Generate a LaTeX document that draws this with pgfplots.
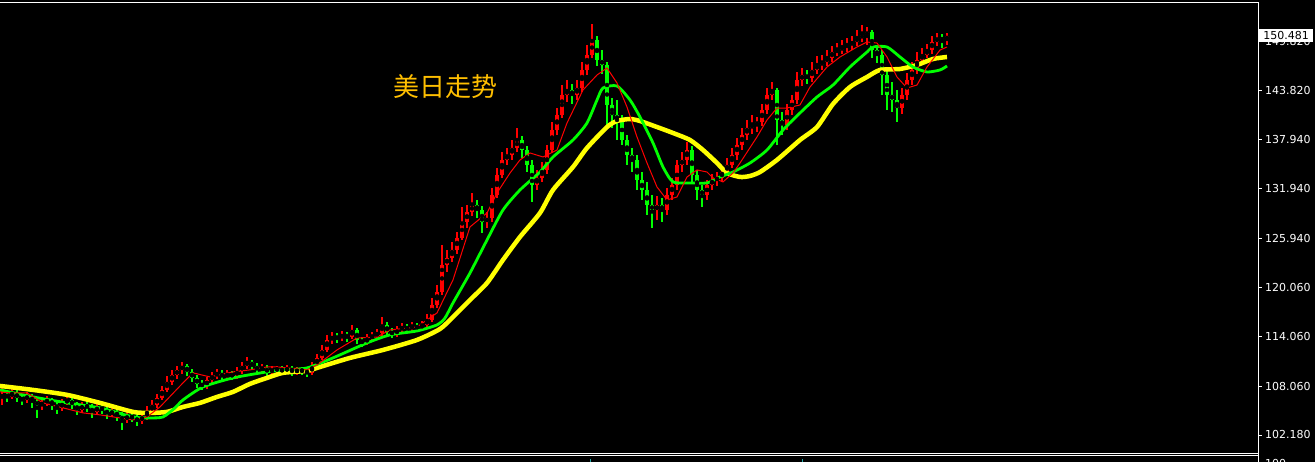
\documentclass[border=0pt]{standalone}
\usepackage{pgfplots}
\usepackage{pgfplotstable}
\pgfplotsset{compat=1.18}
\usepackage{fontspec}
\setmainfont{DejaVu Sans}
\newfontfamily\cjk{Noto Sans CJK SC}

\definecolor{upred}{HTML}{FF0000}
\definecolor{dngreen}{HTML}{00FF00}
\definecolor{maYellow}{HTML}{FFFF00}
\definecolor{titlegold}{HTML}{FFBF00}
\definecolor{teal2}{HTML}{20A8A8}

% bar position (chart pixels), open, high, low, close
\pgfplotstableread{
x o h l c
2 106.66 107.87 105.82 107.03
7 107.03 107.51 106.18 106.78
12 106.78 107.75 106.54 107.27
17 107.27 107.63 106.18 106.66
22 106.66 107.15 105.82 106.42
27 106.42 107.39 106.06 106.90
32 106.90 107.15 105.45 106.18
37 106.18 106.66 104.24 105.82
42 105.82 106.54 105.21 106.06
47 106.06 106.90 105.70 106.42
52 106.42 106.66 105.21 105.82
57 105.82 106.18 104.73 105.45
62 105.45 106.54 105.09 106.06
67 106.06 106.90 105.82 106.42
72 106.42 106.78 105.33 105.82
77 105.82 106.18 104.61 105.21
82 105.21 106.18 104.85 105.82
87 105.82 106.30 104.97 105.45
92 105.45 105.94 104.24 104.97
97 104.97 106.06 104.61 105.57
102 105.57 105.94 104.73 105.21
107 105.21 105.70 104.12 104.73
112 104.73 105.45 104.36 104.97
117 104.97 105.33 103.88 104.48
122 104.48 104.97 102.79 104.00
127 104.00 104.97 103.64 104.48
132 104.48 104.85 103.76 104.24
137 104.24 104.73 103.27 103.88
142 103.88 104.85 103.52 104.36
147 104.36 105.70 104.00 104.97
152 104.97 106.42 104.73 105.82
157 105.82 107.15 105.45 106.66
162 106.66 108.11 106.42 107.63
167 107.63 109.32 107.39 108.60
172 108.60 110.05 108.23 109.44
177 109.44 110.53 108.96 110.05
182 110.05 111.02 109.56 110.53
187 110.53 110.77 109.32 109.81
192 109.81 110.17 108.60 109.08
197 109.08 109.44 107.87 108.36
202 108.36 108.84 107.63 108.11
207 108.11 109.20 107.75 108.84
212 108.84 109.81 108.48 109.32
217 109.32 110.17 108.96 109.69
222 109.69 110.05 108.72 109.20
227 109.20 110.05 108.84 109.56
232 109.56 109.93 108.84 109.32
237 109.32 110.41 108.96 109.93
242 109.93 111.02 109.56 110.53
247 110.53 111.62 110.17 111.02
252 111.02 111.26 110.05 110.53
257 110.53 110.89 109.56 110.05
262 110.05 110.77 109.69 110.29
267 110.29 110.65 109.32 109.81
272 109.81 110.53 109.44 110.05
277 110.05 110.53 109.69 110.17
282 110.17 110.53 109.44 109.93
287 109.93 110.65 109.56 110.29
292 110.29 110.53 109.32 109.81
297 109.81 110.41 109.44 110.05
302 110.05 110.41 109.44 109.93
307 109.93 110.29 109.20 109.69
312 109.69 111.02 109.44 110.53
317 110.53 111.98 110.29 111.50
322 111.50 113.07 111.26 112.46
327 112.46 114.28 112.22 113.67
332 113.67 114.64 113.19 114.03
337 114.03 114.52 113.31 113.91
342 113.91 114.76 113.55 114.28
347 114.28 114.64 113.43 114.03
352 114.03 115.49 113.79 114.88
357 114.88 115.12 113.19 113.67
362 113.67 114.03 112.83 113.31
367 113.31 114.40 113.07 113.91
372 113.91 114.64 113.55 114.16
377 114.16 115.00 113.79 114.52
382 114.52 116.45 114.16 115.49
387 115.49 115.85 114.16 114.64
392 114.64 115.12 113.91 114.40
397 114.40 115.36 114.03 114.88
402 114.88 115.73 114.52 115.24
407 115.24 115.61 114.52 115.00
412 115.00 115.85 114.76 115.36
417 115.36 115.73 114.64 115.12
422 115.12 115.97 114.88 115.49
427 115.49 116.82 115.12 116.09
432 116.09 118.75 115.85 117.91
437 117.91 120.32 117.54 119.48
442 119.48 125.16 119.11 122.74
447 122.74 124.55 121.90 123.59
452 123.59 125.52 123.10 124.55
457 124.55 126.73 124.07 126.01
462 126.01 129.75 125.76 127.94
467 127.94 130.00 127.21 129.15
472 129.15 131.45 128.67 130.00
477 130.00 130.60 128.42 129.39
482 129.39 129.88 126.61 127.94
487 127.94 129.15 127.21 128.42
492 128.42 132.05 127.94 131.20
497 131.20 134.47 130.84 133.62
502 133.62 136.40 133.26 135.44
507 135.44 136.89 134.83 136.04
512 136.04 137.85 135.44 136.89
517 136.89 139.30 136.40 137.85
522 137.85 138.34 135.68 136.64
527 136.64 137.13 133.98 134.83
532 134.83 135.44 130.36 132.41
537 132.41 134.23 131.81 133.26
542 133.26 135.19 132.78 134.23
547 134.23 137.25 133.74 136.64
552 136.64 140.03 136.28 139.06
557 139.06 141.72 138.46 140.88
562 140.88 144.50 140.51 143.29
567 143.29 145.11 142.45 143.90
572 143.90 144.62 142.21 143.29
577 143.29 145.11 142.69 144.14
582 144.14 147.28 143.66 146.32
587 146.32 149.34 145.71 148.13
592 148.13 151.88 147.77 149.94
597 149.94 150.43 146.80 147.53
602 147.53 148.73 145.83 146.92
607 146.92 147.28 139.42 142.09
612 142.09 142.93 139.30 140.88
617 140.88 142.69 137.85 140.27
622 140.27 140.88 137.25 137.85
627 137.85 138.46 134.83 136.04
632 136.04 136.89 133.98 135.44
637 135.44 136.04 131.81 133.02
642 133.02 133.98 130.60 131.81
647 131.81 132.78 128.79 130.00
652 130.00 131.20 127.21 129.39
657 129.39 131.08 128.18 130.00
662 130.00 130.84 127.94 129.39
667 129.39 132.05 128.79 131.20
672 131.20 133.26 130.60 132.41
677 132.41 135.44 131.81 134.83
682 134.83 136.40 133.98 135.44
687 135.44 137.61 134.83 136.64
692 136.64 137.13 132.78 133.62
697 133.62 134.23 130.60 131.81
702 131.81 132.41 129.75 131.20
707 131.20 133.02 130.60 132.41
712 132.41 133.74 131.81 133.02
717 133.02 133.98 132.29 133.26
722 133.26 134.71 132.78 133.98
727 133.98 135.68 133.50 134.83
732 134.83 136.89 134.47 136.04
737 136.04 138.10 135.44 137.25
742 137.25 139.30 136.64 138.46
747 138.46 140.27 137.85 139.30
752 139.30 140.88 138.58 139.67
757 139.67 140.63 138.82 140.03
762 140.03 142.21 139.55 141.48
767 141.48 144.14 141.00 143.29
772 143.29 144.87 142.69 143.90
777 143.90 144.14 137.25 140.27
782 140.27 141.24 138.46 139.67
787 139.67 142.21 139.06 141.48
792 141.48 143.29 140.88 142.69
797 142.69 146.07 142.21 145.11
802 145.11 146.56 144.38 145.71
807 145.71 146.32 144.62 145.35
812 145.35 147.28 144.87 146.32
817 146.32 148.01 145.83 146.92
822 146.92 148.13 146.32 147.28
827 147.28 148.73 146.80 147.77
832 147.77 149.22 147.28 148.49
837 148.49 149.58 148.01 148.73
842 148.73 149.94 148.25 149.10
847 149.10 150.19 148.49 149.34
852 149.34 150.43 148.73 149.70
857 149.70 151.15 149.22 150.19
862 150.19 151.76 149.70 150.55
867 150.55 151.52 149.34 150.91
872 150.91 151.15 147.77 148.73
877 148.73 149.34 147.16 148.13
882 148.13 148.73 143.29 145.71
887 145.71 146.32 141.48 143.29
892 143.29 144.87 141.24 142.69
897 142.69 143.90 140.03 141.72
902 141.72 144.14 140.99 143.29
907 143.29 145.95 142.69 145.11
912 145.11 147.28 144.50 146.32
917 146.32 148.49 145.83 147.53
922 147.53 148.97 147.04 148.13
927 148.13 149.46 147.77 148.73
932 148.73 150.43 148.25 149.70
937 149.70 150.79 149.22 150.19
942 150.19 150.67 148.97 149.94
947 149.94 150.79 149.34 150.48
}\candles

\begin{document}
\begin{tikzpicture}[x=1pt,y=1pt]
\fill[black] (0,0) rectangle (1315,462);

\begin{axis}[
    at={(0pt,9pt)}, anchor=south west,
    scale only axis,
    width=1258.5pt, height=451pt,
    xmin=0, xmax=1258.5,
    ymin=100, ymax=154.54,
    axis line style={draw=none},
    xtick=\empty,
    ytick pos=right, yticklabel pos=right,
    ytick={102.18,108.06,114.06,120.06,125.94,131.94,137.94,143.82,149.82},
    yticklabels={102.180,108.060,114.060,120.060,125.940,131.940,137.940,143.820,149.820},
    tick align=outside,
    major tick length=3pt,
    tick style={white, line width=0.8pt},
    yticklabel style={text=white, font=\fontsize{11}{11}\selectfont},
]

% up bars (red): wick then body
\addplot[only marks, mark=none,
    y filter/.expression={\thisrow{c}>\thisrow{o} ? y : nan},
    error bars/.cd, y dir=both, y explicit, error mark=none,
    error bar style={upred, line width=1.8pt}]
    table[x=x, y expr={(\thisrow{h}+\thisrow{l})/2},
          y error expr={(\thisrow{h}-\thisrow{l})/2}] {\candles};
\addplot[only marks, mark=none,
    y filter/.expression={\thisrow{c}>\thisrow{o} ? y : nan},
    error bars/.cd, y dir=both, y explicit, error mark=none,
    error bar style={upred, line width=4.4pt}]
    table[x=x, y expr={(\thisrow{o}+\thisrow{c})/2},
          y error expr={(\thisrow{c}-\thisrow{o})/2}] {\candles};

% down bars (green)
\addplot[only marks, mark=none,
    y filter/.expression={\thisrow{c}>\thisrow{o} ? nan : y},
    error bars/.cd, y dir=both, y explicit, error mark=none,
    error bar style={dngreen, line width=1.8pt}]
    table[x=x, y expr={(\thisrow{h}+\thisrow{l})/2},
          y error expr={(\thisrow{h}-\thisrow{l})/2}] {\candles};
\addplot[only marks, mark=none,
    y filter/.expression={\thisrow{c}>\thisrow{o} ? nan : y},
    error bars/.cd, y dir=both, y explicit, error mark=none,
    error bar style={dngreen, line width=4.4pt}]
    table[x=x, y expr={(\thisrow{o}+\thisrow{c})/2},
          y error expr={(\thisrow{o}-\thisrow{c})/2}] {\candles};

% slow MA
\addplot[maYellow, line width=4.5pt, smooth, tension=0.4] coordinates {
(0,108.11)(33,107.63)(67,107.03)(100,106.06)(133,104.97)(150,104.85)(167,104.97)
(183,105.57)(200,106.06)(217,106.78)(233,107.39)(250,108.36)(267,109.08)(283,109.69)
(307,109.93)(317,110.29)(350,111.50)(383,112.46)(417,113.67)(440,115.00)(453,116.45)
(470,118.51)(487,120.56)(503,123.35)(520,126.13)(540,129.03)(553,131.81)(573,134.59)
(587,136.89)(607,139.42)(617,140.15)(630,140.39)(640,140.15)(657,139.42)(673,138.70)
(690,137.85)(703,136.64)(717,135.07)(727,133.86)(740,133.38)(750,133.50)(760,133.98)
(777,135.44)(800,137.85)(817,139.42)(833,142.21)(850,144.26)(867,145.47)(880,146.32)
(900,146.44)(917,146.92)(933,147.65)(947,147.89)
};

% medium MA
\addplot[dngreen, line width=2.8pt, smooth, tension=0.4] coordinates {
(0,107.63)(33,106.78)(67,106.06)(100,105.45)(133,104.36)(150,104.24)(163,104.36)
(175,105.45)(183,106.42)(203,107.99)(233,109.08)(267,109.81)(283,110.05)(307,110.29)
(333,111.50)(367,113.31)(390,114.28)(417,114.76)(437,115.49)(445,116.33)(453,118.15)
(470,121.77)(487,125.76)(503,129.39)(520,131.81)(540,133.98)(553,135.80)(573,137.85)
(587,139.91)(597,142.69)(603,144.14)(617,144.38)(630,142.69)(640,140.63)(653,137.49)
(663,134.59)(673,132.78)(690,132.66)(707,132.66)(720,133.38)(733,133.98)(750,135.07)
(767,136.64)(783,139.06)(800,141.12)(817,143.05)(833,144.50)(850,146.68)(867,148.49)
(873,149.10)(887,149.10)(900,147.89)(913,146.68)(927,146.08)(940,146.32)(947,146.80)
};

% fast MA
\addplot[upred, line width=1pt] coordinates {
(0,107.39)(10,107.27)(27,107.27)(43,106.06)(83,104.85)(100,104.61)(133,104.00)
(147,104.36)(160,105.57)(183,108.48)(193,109.69)(210,109.20)(233,109.81)(250,110.05)
(267,110.41)(277,110.41)(307,110.05)(317,110.65)(337,112.46)(357,113.91)(377,114.03)
(390,114.88)(417,115.24)(437,116.94)(453,120.93)(470,127.34)(487,129.03)(497,131.45)
(510,133.86)(520,135.44)(530,136.28)(543,135.80)(557,136.64)(567,139.91)(583,143.90)
(597,145.71)(607,146.56)(617,144.74)(627,141.84)(637,138.22)(647,135.07)(657,132.17)
(667,130.60)(677,130.96)(687,133.38)(697,134.23)(707,133.98)(713,133.26)(723,132.78)
(733,133.86)(740,135.07)(757,138.22)(767,140.27)(777,141.72)(787,141.72)(800,142.09)
(810,144.26)(827,146.68)(840,147.89)(857,149.10)(867,149.70)(877,149.58)(887,147.89)
(897,145.47)(907,144.14)(917,144.50)(927,146.68)(940,148.73)(947,149.10)
};
\end{axis}

% frame of the price window and the top of the window below it
\draw[white, line width=1pt] (0,459.7) -- (1258.5,459.7) -- (1258.5,0);
\draw[white, line width=1pt] (0,8.7) -- (1258.5,8.7);
\draw[white, line width=1pt] (0,6.4) -- (1258.5,6.4);
\draw[teal2, line width=1pt] (590,0) -- (590,3);
\draw[teal2, line width=1pt] (802,0) -- (802,3);
\node[anchor=north west, inner sep=0pt, text=white, font=\fontsize{11}{11}\selectfont]
    at (1265,3.2) {100};

% current price
\node[anchor=west, fill=white, text=black, inner sep=0pt,
    minimum width=54pt, minimum height=13.5pt,
    font=\fontsize{11}{11}\selectfont] at (1259,426.5) {150.481};

% title
\node[anchor=west, inner sep=0pt, text=titlegold,
    font=\cjk\fontsize{26}{26}\selectfont] at (393,375) {美日走势};

\pgfresetboundingbox
\path[use as bounding box] (0,0) rectangle (1315,462);
\end{tikzpicture}
\end{document}
